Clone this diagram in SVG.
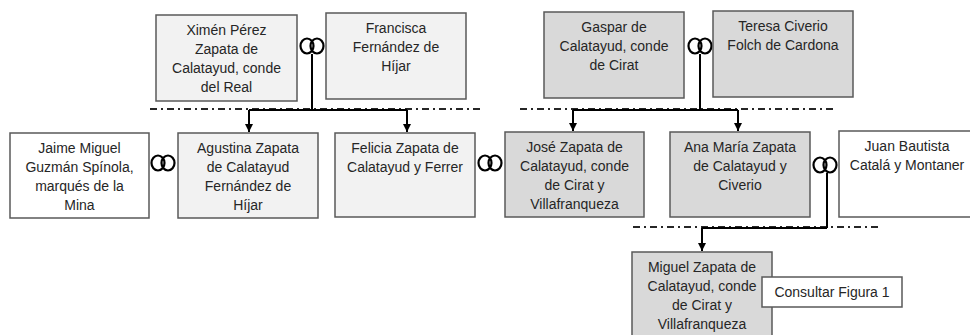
<svg xmlns="http://www.w3.org/2000/svg" width="970" height="335" viewBox="0 0 970 335">
<defs>
<style>
.box{stroke:#595959;stroke-width:1.5}
.l1{fill:#f2f2f2}
.l2{fill:#d9d9d9}
.w{fill:#ffffff}
text{font-family:"Liberation Sans",Arial,sans-serif;font-size:14px;fill:#262626;text-anchor:middle}
.ring{fill:none;stroke:#000;stroke-width:2.2}
.dd{fill:none;stroke:#262626;stroke-width:2;stroke-dasharray:7 4 2 4}
.ln{fill:none;stroke:#000;stroke-width:2}
</style>
<marker id="arr" viewBox="0 0 10 10" refX="10" refY="5" markerWidth="4" markerHeight="4" orient="auto" markerUnits="strokeWidth">
<path d="M0,0 L10,5 L0,10 z" fill="#000"/>
</marker>
<g id="rings">
<ellipse cx="-5" cy="0" rx="6.5" ry="7.5" class="ring"/>
<ellipse cx="5" cy="0" rx="6.5" ry="7.5" class="ring"/>
</g>
</defs>
<rect width="970" height="335" fill="#ffffff"/>

<g id="connectors">
<path class="dd" d="M150,109 H482"/>
<path class="dd" d="M520,109 H834"/>
<path class="dd" d="M633,227 H878"/>
<path class="ln" d="M312,54 V110"/>
<path class="ln" d="M249,110 H407"/>
<path class="ln" d="M249,110 V132" marker-end="url(#arr)"/>
<path class="ln" d="M407,110 V132" marker-end="url(#arr)"/>
<path class="ln" d="M700,54 V110"/>
<path class="ln" d="M573,110 H738"/>
<path class="ln" d="M573,110 V131" marker-end="url(#arr)"/>
<path class="ln" d="M738,110 V131" marker-end="url(#arr)"/>
<path class="ln" d="M827,173 V228"/>
<path class="ln" d="M702,228 H827"/>
<path class="ln" d="M702,228 V251" marker-end="url(#arr)"/>
<use href="#rings" x="312" y="46"/>
<use href="#rings" x="700" y="46"/>
<use href="#rings" x="163" y="163"/>
<use href="#rings" x="490" y="163"/>
<use href="#rings" x="825" y="165"/>
</g>

<g id="ximen">
<rect class="box l1" x="156" y="15" width="141" height="86"/>
<text x="226.5" y="35">Ximén Pérez</text>
<text x="226.5" y="54">Zapata de</text>
<text x="226.5" y="73">Calatayud, conde</text>
<text x="226.5" y="92">del Real</text>
</g>
<g id="francisca">
<rect class="box l1" x="326" y="13" width="140" height="86"/>
<text x="396" y="33">Francisca</text>
<text x="396" y="52">Fernández de</text>
<text x="396" y="71">Híjar</text>
</g>
<g id="gaspar">
<rect class="box l2" x="544" y="12" width="140" height="86"/>
<text x="614" y="32">Gaspar de</text>
<text x="614" y="51">Calatayud, conde</text>
<text x="614" y="70">de Cirat</text>
</g>
<g id="teresa">
<rect class="box l2" x="713" y="11" width="140" height="86"/>
<text x="783" y="31">Teresa Civerio</text>
<text x="783" y="50">Folch de Cardona</text>
</g>
<g id="jaime">
<rect class="box w" x="10" y="133" width="139" height="85"/>
<text x="79.5" y="153">Jaime Miguel</text>
<text x="79.5" y="172">Guzmán Spínola,</text>
<text x="79.5" y="191">marqués de la</text>
<text x="79.5" y="210">Mina</text>
</g>
<g id="agustina">
<rect class="box l1" x="178" y="133" width="140" height="85"/>
<text x="248" y="153">Agustina Zapata</text>
<text x="248" y="172">de Calatayud</text>
<text x="248" y="191">Fernández de</text>
<text x="248" y="210">Híjar</text>
</g>
<g id="felicia">
<rect class="box l1" x="335" y="133" width="140" height="84"/>
<text x="405" y="153">Felicia Zapata de</text>
<text x="405" y="172">Calatayud y Ferrer</text>
</g>
<g id="jose">
<rect class="box l2" x="505" y="132" width="139" height="85"/>
<text x="574.5" y="152">José Zapata de</text>
<text x="574.5" y="171">Calatayud, conde</text>
<text x="574.5" y="190">de Cirat y</text>
<text x="574.5" y="209">Villafranqueza</text>
</g>
<g id="anamaria">
<rect class="box l2" x="670" y="132" width="140" height="85"/>
<text x="740" y="152">Ana María Zapata</text>
<text x="740" y="171">de Calatayud y</text>
<text x="740" y="190">Civerio</text>
</g>
<g id="juan">
<rect class="box w" x="839" y="131" width="140" height="86"/>
<text x="907" y="151">Juan Bautista</text>
<text x="907" y="170">Catalá y Montaner</text>
</g>
<g id="miguel">
<rect class="box l2" x="632" y="252" width="140" height="90"/>
<text x="702" y="272">Miguel Zapata de</text>
<text x="702" y="291">Calatayud, conde</text>
<text x="702" y="310">de Cirat y</text>
<text x="702" y="329">Villafranqueza</text>
</g>
<g id="consultar">
<rect class="box w" x="762" y="277" width="140" height="30"/>
<text x="832" y="297">Consultar Figura 1</text>
</g>
</svg>
